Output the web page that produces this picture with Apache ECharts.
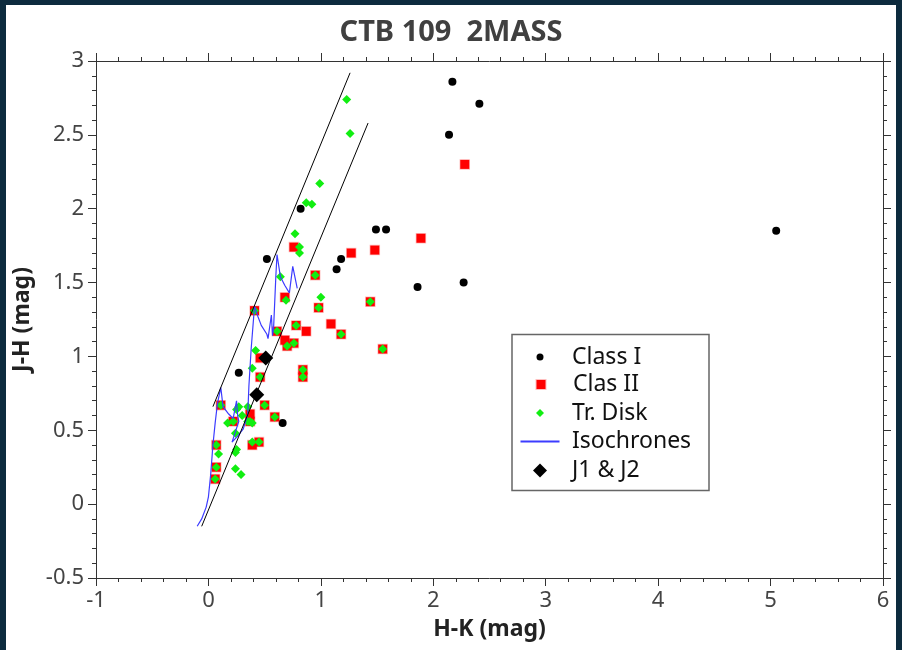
<!DOCTYPE html>
<html>
<head>
<meta charset="utf-8">
<script src="https://cdn.jsdelivr.net/npm/echarts@6/dist/echarts.min.js"></script>
<style>
  html, body { margin: 0; padding: 0; background: #0d2b3e; }
  #wrap { position: absolute; left: 6px; top: 5px; width: 890px; height: 645px; background: #fff; }
</style>
</head>
<body>
<div id="wrap"></div>
<script>
// H-K, J-H pairs
var classI = [[2.17, 2.86], [2.41, 2.71], [2.14, 2.50], [1.49, 1.86], [1.58, 1.86], [1.18, 1.66], [1.14, 1.59],
  [1.86, 1.47], [2.27, 1.50], [5.05, 1.85], [0.82, 2.00], [0.52, 1.66], [0.27, 0.89], [0.66, 0.55]];

var classII = [[2.28, 2.30], [1.89, 1.80], [1.27, 1.70], [1.48, 1.72], [0.76, 1.74], [0.95, 1.55], [0.68, 1.40],
  [0.98, 1.33], [1.44, 1.37], [0.78, 1.21], [1.09, 1.22], [0.87, 1.17], [1.18, 1.15], [0.61, 1.17], [0.68, 1.11],
  [0.70, 1.07], [0.76, 1.09], [1.55, 1.05], [0.84, 0.91], [0.84, 0.86], [0.41, 1.31], [0.46, 0.99], [0.46, 0.86],
  [0.11, 0.67], [0.50, 0.67], [0.59, 0.59], [0.22, 0.56], [0.37, 0.61], [0.37, 0.56], [0.07, 0.40], [0.07, 0.25],
  [0.06, 0.17], [0.39, 0.40], [0.45, 0.42]];

var trDisk = [[1.23, 2.74], [1.26, 2.51], [0.99, 2.17], [0.87, 2.04], [0.92, 2.03], [0.77, 1.83], [0.81, 1.74],
  [0.81, 1.70], [0.64, 1.54], [0.69, 1.38], [1.00, 1.40], [0.42, 1.04], [0.39, 0.92], [0.17, 0.55], [0.25, 0.64],
  [0.27, 0.66], [0.30, 0.60], [0.35, 0.66], [0.35, 0.56], [0.39, 0.55], [0.24, 0.48], [0.09, 0.34], [0.39, 0.42],
  [0.25, 0.37], [0.24, 0.35], [0.24, 0.24], [0.29, 0.20],
  [0.95, 1.55], [0.98, 1.33], [1.44, 1.37], [0.78, 1.21], [1.18, 1.15], [0.61, 1.17], [0.70, 1.07], [0.76, 1.09],
  [1.55, 1.05], [0.84, 0.91], [0.84, 0.86], [0.41, 1.31], [0.46, 0.86], [0.11, 0.67], [0.50, 0.67], [0.59, 0.59],
  [0.22, 0.56], [0.37, 0.56], [0.07, 0.40], [0.07, 0.25], [0.06, 0.17], [0.45, 0.42]];

var isochrones = [[-0.10, -0.15], [-0.06, -0.10], [-0.02, -0.02], [0.00, 0.05], [0.02, 0.20], [0.04, 0.40],
  [0.06, 0.55], [0.08, 0.68], [0.11, 0.79], [0.13, 0.66], [0.18, 0.61], [0.22, 0.58], [0.25, 0.70], [0.26, 0.60],
  [0.27, 0.56], [0.21, 0.42], [0.26, 0.46], [0.31, 0.51], [0.35, 0.61], [0.36, 0.80], [0.38, 1.05], [0.41, 1.34],
  [0.44, 1.27], [0.47, 1.21], [0.52, 1.15], [0.53, 1.12], [0.56, 1.28], [0.57, 1.14], [0.58, 1.20], [0.60, 1.55],
  [0.61, 1.69], [0.64, 1.54], [0.68, 1.48], [0.72, 1.43], [0.75, 1.61], [0.79, 1.46]];

var j1j2 = [[0.51, 0.99], [0.43, 0.74]];

// reddening band edges
var bandUpper = [[0.04, 0.66], [1.26, 2.92]];
var bandLower = [[-0.06, -0.15], [1.42, 2.58]];

var xMin = -1, xMax = 6, yMin = -0.5, yMax = 3;

var font = 'Noto Sans';
var axisCol = '#333';
var isoCol = '#3c3cff';

function tickAxis(pos, isX, showLabel) {
  return {
    type: 'value',
    position: pos,
    min: isX ? xMin : yMin,
    max: isX ? xMax : yMax,
    interval: isX ? 1 : 0.5,
    name: showLabel ? (isX ? 'H-K (mag)' : 'J-H (mag)') : '',
    nameLocation: 'middle',
    nameGap: isX ? 40 : 62,
    nameTextStyle: { fontFamily: font, fontWeight: 'bold', fontSize: 23, color: '#222' },
    axisLine: { show: true, onZero: false, lineStyle: { color: axisCol, width: 1 } },
    axisTick: { show: true, inside: false, length: 8, lineStyle: { color: axisCol } },
    minorTick: { show: true, splitNumber: 5, length: 4, lineStyle: { color: axisCol } },
    axisLabel: { show: showLabel, margin: 12, fontFamily: font, fontSize: 22, color: '#444' },
    splitLine: { show: false }
  };
}

// one legend per row so each icon keeps its own size; icons centred at x=534
function legendItem(name, mid, size, icon, w, col) {
  var width = w || size;
  var d = { name: name };
  if (icon) d.icon = icon;
  if (col) d.itemStyle = { color: col };
  var left = 534 - width / 2;
  return {
    data: [d],
    left: left,
    top: mid - 13,
    padding: 0,
    itemWidth: width,
    itemHeight: size,
    selectedMode: false,
    textStyle: {
      fontFamily: font, fontSize: 23, lineHeight: 26, color: '#111',
      padding: [0, 0, 0, 566 - (left + width + 5)]
    }
  };
}

var chart = echarts.init(document.getElementById('wrap'), null, { renderer: 'canvas' });

chart.setOption({
  animation: false,
  title: {
    text: 'CTB 109  2MASS',
    left: 'center',
    top: 8,
    textStyle: { fontFamily: font, fontWeight: 'bold', fontSize: 29, color: '#404040' }
  },
  grid: { left: 90, right: 13, top: 56, bottom: 72, outerBoundsMode: 'none' },
  xAxis: [tickAxis('bottom', true, true), tickAxis('top', true, false)],
  yAxis: [tickAxis('left', false, true), tickAxis('right', false, false)],
  legend: [
    legendItem('Class I', 352, 7, 'circle'),
    legendItem('Clas II', 379.5, 9, 'rect'),
    legendItem('Tr. Disk', 408, 8, 'diamond'),
    legendItem('Isochrones', 436.5, 2, 'rect', 39, isoCol),
    legendItem('J1 & J2', 465.5, 14, 'diamond')
  ],
  graphic: [{
    type: 'rect',
    shape: { x: 506, y: 329.5, width: 197, height: 156 },
    style: { fill: 'none', stroke: '#666', lineWidth: 1.5 },
    z: 1
  }],
  series: [
    {
      name: 'Class I', type: 'scatter', data: classI,
      symbol: 'circle', symbolSize: 8,
      itemStyle: { color: '#000', opacity: 1 }
    },
    {
      name: 'Clas II', type: 'scatter', data: classII,
      symbol: 'rect', symbolSize: 9,
      itemStyle: { color: '#ff0000', opacity: 1, borderColor: 'rgba(255,0,0,0.25)', borderWidth: 1.5 }
    },
    {
      name: 'Tr. Disk', type: 'scatter', data: trDisk,
      symbol: 'diamond', symbolSize: 9,
      itemStyle: { color: '#11ee11', opacity: 1 }
    },
    {
      name: 'Isochrones', type: 'line', data: isochrones,
      symbol: 'none', showSymbol: false, color: isoCol,
      lineStyle: { color: isoCol, width: 1.2 }
    },
    {
      name: 'band1', type: 'line', data: bandUpper,
      symbol: 'none', showSymbol: false,
      lineStyle: { color: '#000', width: 1 }
    },
    {
      name: 'band2', type: 'line', data: bandLower,
      symbol: 'none', showSymbol: false,
      lineStyle: { color: '#000', width: 1 }
    },
    {
      name: 'J1 & J2', type: 'scatter', data: j1j2,
      symbol: 'diamond', symbolSize: 15,
      itemStyle: { color: '#000', opacity: 1 }
    }
  ]
});
</script>
</body>
</html>
